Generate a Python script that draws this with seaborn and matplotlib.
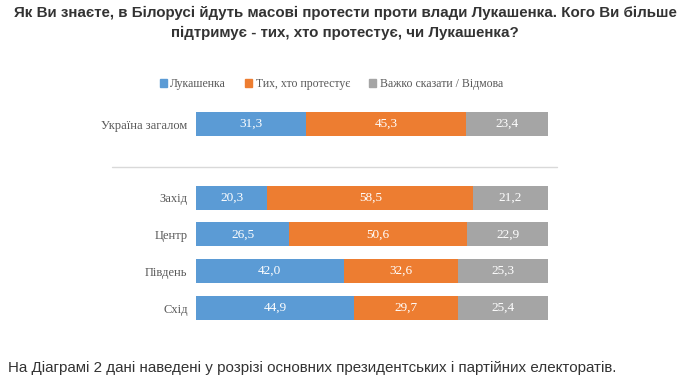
import pandas as pd
import seaborn as sns
import matplotlib.pyplot as plt
from matplotlib import transforms
from matplotlib.patches import Patch

regions = ['Україна загалом', 'Захід', 'Центр', 'Південь', 'Схід']
lukashenko = [31.3, 20.3, 26.5, 42.0, 44.9]
protesters = [45.3, 58.5, 50.6, 32.6, 29.7]
hard_to_say = [23.4, 21.2, 22.9, 25.3, 25.4]
series_names = ['Лукашенка', 'Тих, хто протестує', 'Важко сказати / Відмова']
colors = ['#5B9BD5', '#ED7D31', '#A5A5A5']

df = pd.DataFrame({'region': regions, 'a': lukashenko, 'b': protesters, 'c': hard_to_say})
df['ab'] = df['a'] + df['b']
df['abc'] = df['ab'] + df['c']

order = [regions[0], ' '] + regions[1:]

sns.set_style('white')
fig = plt.figure(figsize=(6.9, 3.86), dpi=100)
ax = fig.add_axes([0.284, 0.1544, 0.510, 0.572])

# stacked bars: draw cumulative totals, widest first
for col, c in zip(['abc', 'ab', 'a'], colors[::-1]):
    sns.barplot(data=df, x=col, y='region', order=order, color=c,
                width=0.65, saturation=1, linewidth=0, ax=ax, orient='h')

# value labels in the middle of each segment
for _, r in df.iterrows():
    y = order.index(r['region'])
    starts = [0, r['a'], r['ab']]
    for s, v in zip(starts, [r['a'], r['b'], r['c']]):
        ax.text(s + v / 2, y, f'{v:.1f}'.replace('.', ','), ha='center', va='center',
                color='white', fontsize=9.5, family='Liberation Serif')

ax.set_xlim(0, 100)
ax.set_ylim(len(order) - 0.5, -0.5)
ax.set_xlabel('')
ax.set_ylabel('')
ax.set_xticks([])
ax.set_yticks(range(len(order)))
ax.set_yticklabels(order, family='Liberation Serif', fontsize=9, color='#595959')
ax.tick_params(axis='y', length=0, pad=6)
sns.despine(ax=ax, left=True, bottom=True)

# separator line between Ukraine total and regions
trans = transforms.blended_transform_factory(ax.transAxes, ax.transData)
ax.plot([-0.239, 1.026], [1.16, 1.16], color='#D9D9D9', lw=1, transform=trans, clip_on=False)

handles = [Patch(color=c) for c in colors]
fig.legend(handles, series_names, loc='center', bbox_to_anchor=(0.48, 0.782), ncol=3,
           frameon=False, prop={'family': 'Liberation Serif', 'size': 8.5},
           labelcolor='#595959', handlelength=0.6, handleheight=0.6,
           handletextpad=0.3, columnspacing=1.6)

fig.text(0.5, 1 - 13 / 386, 'Як Ви знаєте, в Білорусі йдуть масові протести проти влади Лукашенка. Кого Ви більше',
         ha='center', va='center', fontsize=10.9, fontweight='bold', color='#333333',
         family='Liberation Sans')
fig.text(0.5, 1 - 33 / 386, 'підтримує - тих, хто протестує, чи Лукашенка?',
         ha='center', va='center', fontsize=10.9, fontweight='bold', color='#333333',
         family='Liberation Sans')
fig.text(8 / 690, 1 - 368 / 386,
         'На Діаграмі 2 дані наведені у розрізі основних президентських і партійних електоратів.',
         ha='left', va='center', fontsize=10.9, color='#333333', family='Liberation Sans')

plt.savefig('out.png', dpi=100)
